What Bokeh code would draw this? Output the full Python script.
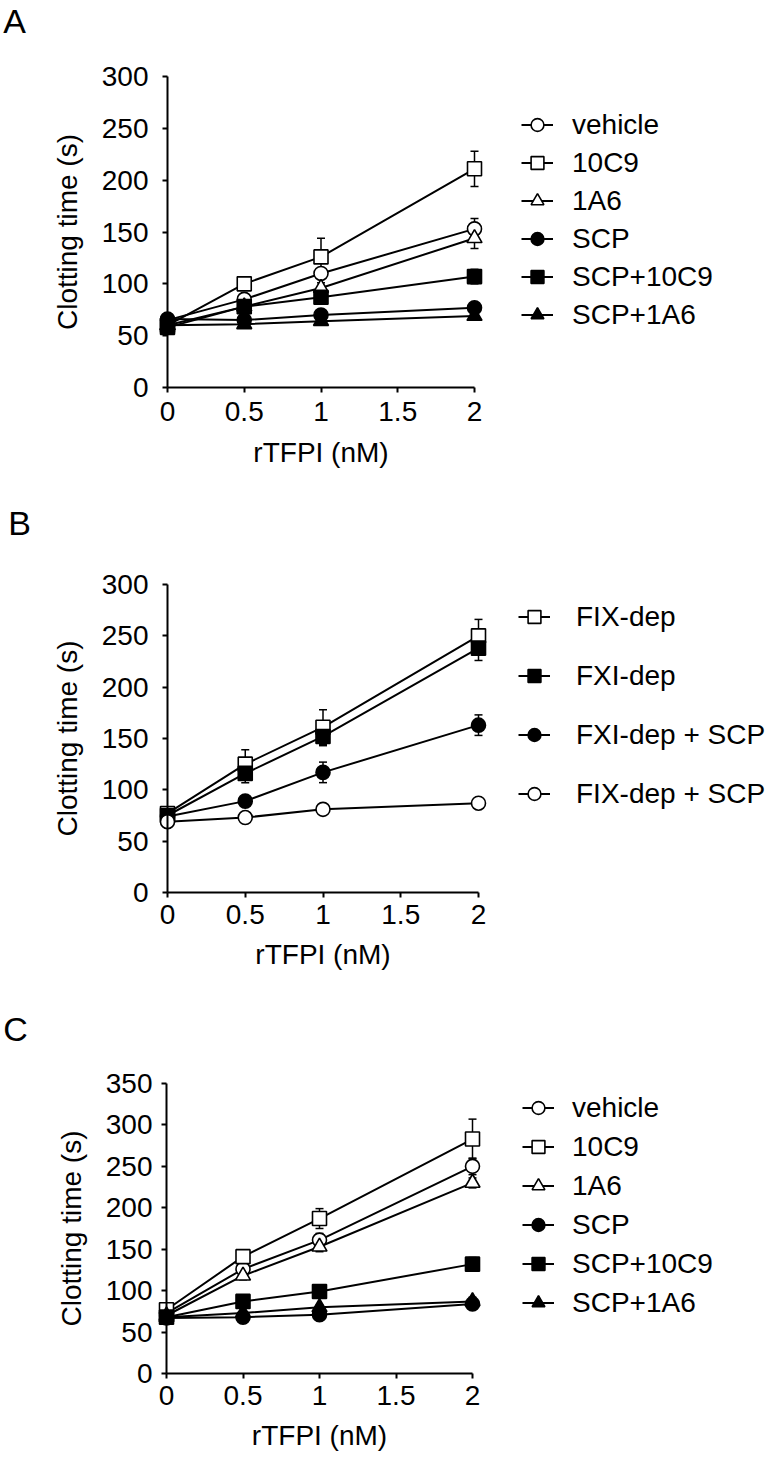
from bokeh.plotting import figure
from bokeh.models import (ColumnDataSource, Whisker, TeeHead, Legend, LegendItem,
                          FixedTicker, NumeralTickFormatter, Label, Range1d)
from bokeh.layouts import column
from bokeh.embed import file_html
from bokeh.resources import INLINE

FONT = "Liberation Sans"

rtfpi = [0, 0.5, 1, 2]
x_ticks = [0, 0.5, 1, 1.5, 2]

# ---------------- Panel A ----------------
a_names = ["vehicle", "10C9", "1A6", "SCP", "SCP+10C9", "SCP+1A6"]
a_vehicle = [65, 85, 110, 153]
a_vehicle_err = [2, 3, 5, 10]
a_10c9 = [60, 100, 126, 211]
a_10c9_err = [2, 4, 18, 17]
a_1a6 = [60, 78, 96, 144]
a_1a6_err = [2, 3, 5, 10]
a_scp = [66, 65, 70, 77]
a_scp_err = [2, 2, 3, 4]
a_scp_10c9 = [58, 78, 87, 107]
a_scp_10c9_err = [2, 3, 4, 7]
a_scp_1a6 = [60, 61, 64, 69]
a_scp_1a6_err = [1, 2, 2, 2]
a_yticks = [0, 50, 100, 150, 200, 250, 300]

# ---------------- Panel B ----------------
b_names = ["FIX-dep", "FXI-dep", "FXI-dep + SCP", "FIX-dep + SCP"]
b_fix = [77, 125, 161, 250]
b_fix_err = [3, 14, 17, 16]
b_fxi = [75, 116, 152, 238]
b_fxi_err = [3, 9, 9, 12]
b_fxi_scp = [74, 89, 117, 163]
b_fxi_scp_err = [2, 4, 10, 10]
b_fix_scp = [69, 73, 81, 87]
b_fix_scp_err = [2, 2, 2, 2]
b_yticks = [0, 50, 100, 150, 200, 250, 300]

# ---------------- Panel C ----------------
c_names = ["vehicle", "10C9", "1A6", "SCP", "SCP+10C9", "SCP+1A6"]
c_vehicle = [73, 126, 161, 250]
c_vehicle_err = [2, 5, 8, 10]
c_10c9 = [77, 141, 187, 283]
c_10c9_err = [3, 6, 12, 24]
c_1a6 = [70, 118, 153, 230]
c_1a6_err = [2, 5, 6, 6]
c_scp = [67, 68, 71, 84]
c_scp_err = [2, 2, 2, 3]
c_scp_10c9 = [68, 87, 99, 132]
c_scp_10c9_err = [2, 3, 4, 8]
c_scp_1a6 = [68, 73, 80, 87]
c_scp_1a6_err = [2, 2, 2, 5]
c_yticks = [0, 50, 100, 150, 200, 250, 300, 350]

X_LABEL = "rTFPI (nM)"
Y_LABEL = "Clotting time (s)"

# marker styles (marker type, filled)
STYLE_A = [("circle", False), ("square", False), ("triangle", False),
           ("circle", True), ("square", True), ("triangle", True)]
STYLE_B = [("square", False), ("square", True), ("circle", True), ("circle", False)]

FIG_W = 770
FS = "28px"


def make_panel(letter, letter_xy, fig_top, fig_h, x0, x2, y_top, y_bot, ymax, yticks,
               names, values, errors, styles, leg_left, leg_top, leg_spacing, leg_standoff,
               xlab_standoff, xtitle_standoff, ylab_standoff):
    # page-pixel layout -> data ranges; the frame fills the whole figure
    ppx = (x2 - x0) / 2.0
    ppy = (y_bot - y_top) / float(ymax)
    x_start = -x0 / ppx
    x_end = x_start + FIG_W / ppx
    y_start = -(fig_top + fig_h - y_bot) / ppy
    y_end = ymax + (y_top - fig_top) / ppy
    p = figure(width=FIG_W, height=fig_h,
               x_range=Range1d(x_start, x_end), y_range=Range1d(y_start, y_end),
               min_border_left=0, min_border_right=0, min_border_top=0, min_border_bottom=0,
               output_backend="svg", toolbar_location=None)
    p.xgrid.visible = False
    p.ygrid.visible = False
    p.outline_line_color = None
    p.background_fill_color = "white"
    p.border_fill_color = "white"

    items = []
    for name, vals, errs, (mk, filled) in zip(names, values, errors, styles):
        src = ColumnDataSource(dict(x=rtfpi, y=vals,
                                    upper=[v + e for v, e in zip(vals, errs)],
                                    lower=[v - e for v, e in zip(vals, errs)]))
        w = Whisker(source=src, base="x", upper="upper", lower="lower",
                    line_color="black", line_width=1.5,
                    upper_head=TeeHead(size=8, line_width=1.5, line_color="black"),
                    lower_head=TeeHead(size=8, line_width=1.5, line_color="black"))
        p.add_layout(w)
        lr = p.line("x", "y", source=src, line_color="black", line_width=2)
        size = 15 if mk == "triangle" else 14
        sr = p.scatter("x", "y", source=src, marker=mk, size=size,
                       fill_color="black" if filled else "white",
                       line_color="black", line_width=1.6)
        items.append(LegendItem(label=name, renderers=[lr, sr]))

    row_h = 33
    n = len(names)
    leg_h = n * row_h + (n - 1) * leg_spacing
    fig_bottom = fig_top + fig_h
    leg = Legend(items=items,
                 location=(leg_left, fig_bottom - (leg_top + leg_h)),
                 orientation="vertical", glyph_width=32, glyph_height=row_h,
                 label_height=row_h, spacing=leg_spacing, padding=0, margin=0,
                 label_standoff=leg_standoff, border_line_color=None,
                 background_fill_alpha=0,
                 label_text_font=FONT, label_text_font_size=FS,
                 label_text_color="black")
    p.add_layout(leg)

    xa = p.xaxis[0]
    ya = p.yaxis[0]
    for ax in (xa, ya):
        ax.axis_line_width = 2
        ax.axis_line_color = "black"
        ax.major_tick_line_width = 2
        ax.major_tick_line_color = "black"
        ax.major_tick_out = 5
        ax.major_tick_in = 0
        ax.minor_tick_out = 0
        ax.minor_tick_in = 0
        ax.major_label_text_font = FONT
        ax.major_label_text_font_size = FS
        ax.major_label_text_color = "black"
        ax.axis_label_text_font = FONT
        ax.axis_label_text_font_size = FS
        ax.axis_label_text_font_style = "normal"
        ax.axis_label_text_color = "black"
    xa.ticker = FixedTicker(ticks=x_ticks)
    xa.formatter = NumeralTickFormatter(format="0.[0]")
    xa.bounds = (0, 2)
    xa.axis_label = X_LABEL
    xa.major_label_standoff = xlab_standoff
    xa.axis_label_standoff = xtitle_standoff
    xa.fixed_location = 0
    ya.ticker = FixedTicker(ticks=yticks)
    ya.bounds = (0, ymax)
    ya.axis_label = Y_LABEL
    ya.major_label_standoff = ylab_standoff
    ya.axis_label_standoff = 16
    ya.fixed_location = 0

    lab = Label(x=letter_xy[0], y=fig_bottom - letter_xy[1],
                x_units="screen", y_units="screen", text=letter,
                text_align="center", text_baseline="middle",
                text_font=FONT, text_font_size="34px", text_color="black")
    p.add_layout(lab)
    return p


pA = make_panel("A", (14, 20), 0, 478, 167, 474, 76, 387, 300, a_yticks, a_names,
                [a_vehicle, a_10c9, a_1a6, a_scp, a_scp_10c9, a_scp_1a6],
                [a_vehicle_err, a_10c9_err, a_1a6_err, a_scp_err, a_scp_10c9_err, a_scp_1a6_err],
                STYLE_A, 521, 108, 5, 19, 9, 13, 14)

pB = make_panel("B", (19, 522), 478, 498, 167, 478, 584, 892, 300, b_yticks, b_names,
                [b_fix, b_fxi, b_fxi_scp, b_fix_scp],
                [b_fix_err, b_fxi_err, b_fxi_scp_err, b_fix_scp_err],
                STYLE_B, 518, 600, 26, 26, 7, 12, 14)

pC = make_panel("C", (15, 1028), 976, 479, 166, 472, 1083, 1373, 350, c_yticks, c_names,
                [c_vehicle, c_10c9, c_1a6, c_scp, c_scp_10c9, c_scp_1a6],
                [c_vehicle_err, c_10c9_err, c_1a6_err, c_scp_err, c_scp_10c9_err, c_scp_1a6_err],
                STYLE_A, 522, 1091, 6, 18, 7, 12, 9)

layout = column(pA, pB, pC)
open("out.html", "w").write(file_html(layout, INLINE))
